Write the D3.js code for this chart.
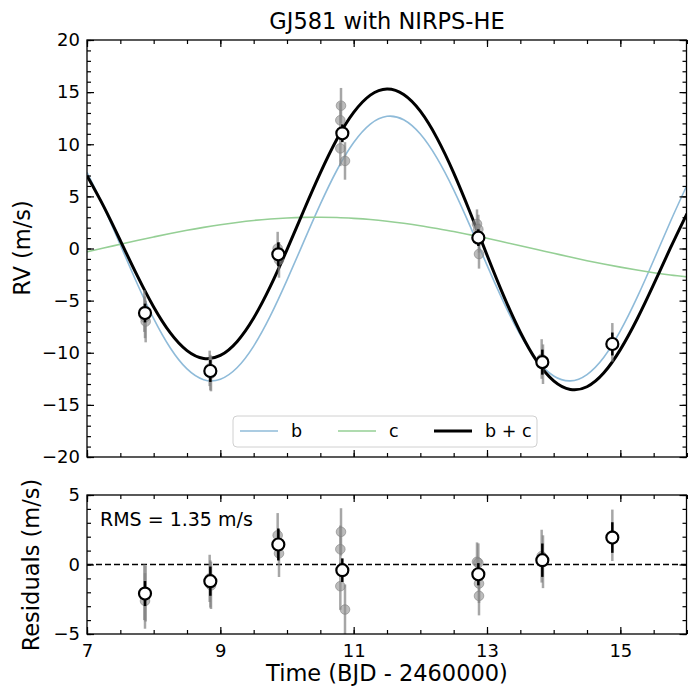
<!DOCTYPE html>
<html><head><meta charset="utf-8">
<script src="https://cdn.jsdelivr.net/npm/d3@7"></script>
<style>body{margin:0;background:#fff}svg{display:block;font-family:"DejaVu Sans",sans-serif}</style>
</head><body><svg id="c" width="688" height="687"></svg>
<script>
const modelT = [7.00,7.25,7.50,7.75,8.00,8.25,8.50,8.75,9.00,9.25,9.50,9.75,10.00,10.25,10.50,10.75,11.00,11.25,11.50,11.75,12.00,12.25,12.50,12.75,13.00,13.25,13.50,13.75,14.00,14.25,14.50,14.75,15.00,15.25,15.50,15.75,16.00];
const modelB = [7.30,4.00,0.35,-3.33,-6.72,-9.54,-11.55,-12.58,-12.54,-11.44,-9.36,-6.47,-3.04,0.63,4.25,7.53,10.16,11.93,12.68,12.35,10.98,8.67,5.63,2.10,-1.60,-5.16,-8.29,-10.73,-12.23,-12.70,-12.09,-10.46,-7.91,-4.72,-1.13,2.57,6.07];
const modelC = [-0.32,0.04,0.41,0.77,1.11,1.44,1.75,2.03,2.28,2.50,2.69,2.83,2.93,2.99,3.00,2.97,2.89,2.78,2.62,2.42,2.19,1.92,1.63,1.31,0.98,0.62,0.26,-0.10,-0.46,-0.82,-1.17,-1.49,-1.79,-2.07,-2.32,-2.54,-2.72];
const modelBC = [6.98,4.04,0.76,-2.56,-5.61,-8.10,-9.80,-10.55,-10.26,-8.94,-6.67,-3.64,-0.11,3.62,7.25,10.50,13.05,14.71,15.30,14.77,13.17,10.59,7.26,3.41,-0.62,-4.54,-8.03,-10.83,-12.69,-13.52,-13.26,-11.95,-9.70,-6.79,-3.45,0.03,3.35];

// Nightly binned points
const nightT = [7.87,8.85,9.87,10.83,12.87,13.83,14.88];
const nightRV = [-6.19,-11.75,-0.56,11.05,1.04,-10.9,-9.16];
const nightRes = [-2.09,-1.2,1.44,-0.41,-0.70,0.31,1.94];
const nightErr = [0.9,1.05,1.15,0.85,0.8,1.2,1.1];

// Individual observations
const obsT = [7.86,7.87,7.88,8.84,8.85,8.86,9.86,9.88,10.81,10.80,10.80,10.87,12.85,12.87,12.88,12.88,13.82,13.84,14.88];
const obsRV = [-6.0,-6.6,-7.0,-11.5,-11.9,-12.0,0.0,-1.1,13.7,12.3,9.6,8.4,2.35,1.84,1.0,-0.53,-10.6,-11.1,-9.0];
const obsRes = [-2.0,-2.62,-2.1,-1.0,-1.4,-1.5,2.1,0.8,2.35,1.1,-1.56,-3.24,0.19,0.12,-1.37,-2.26,0.6,0.2,2.1];
const obsErr = [2.0,2.0,2.0,1.7,1.7,1.7,1.6,1.7,1.7,1.7,1.7,1.8,1.4,1.4,1.4,1.4,1.9,1.9,1.85];

const xTicks = [7,9,11,13,15];
const yTicksTop = [-20,-15,-10,-5,0,5,10,15,20];
const yTicksBot = [-5,0,5];
const legendItems = ["b","c","b + c"];
const rmsText = "RMS = 1.35 m/s";

const svg = d3.select("#c");
const L = 87, R = 687;
const x = d3.scaleLinear().domain([7,16]).range([L,R]);
const yT = d3.scaleLinear().domain([-20,20]).range([457,40]);
const yB = d3.scaleLinear().domain([-5,5]).range([634,495]);
const fmt = d3.format("d");

const defs = svg.append("defs");
defs.append("clipPath").attr("id","clipT").append("rect").attr("x",L).attr("y",40).attr("width",R-L).attr("height",417);
defs.append("clipPath").attr("id","clipB").append("rect").attr("x",L).attr("y",495).attr("width",R-L).attr("height",139);

function axes(y, top, bot, yTicks, yMinor, showXLabels){
  const gx = svg.append("g").attr("transform",`translate(0,${bot})`)
    .call(d3.axisBottom(x).tickValues(xTicks).tickSize(-7).tickPadding(10).tickFormat(showXLabels?fmt:""));
  const gxm = svg.append("g").attr("transform",`translate(0,${bot})`)
    .call(d3.axisBottom(x).tickValues(d3.range(7,16.01,0.5)).tickSize(-4).tickFormat(""));
  const gxt = svg.append("g").attr("transform",`translate(0,${top})`)
    .call(d3.axisTop(x).tickValues(xTicks).tickSize(-7).tickFormat(""));
  const gxtm = svg.append("g").attr("transform",`translate(0,${top})`)
    .call(d3.axisTop(x).tickValues(d3.range(7,16.01,0.5)).tickSize(-4).tickFormat(""));
  const gy = svg.append("g").attr("transform",`translate(${L},0)`)
    .call(d3.axisLeft(y).tickValues(yTicks).tickSize(-7).tickPadding(7).tickFormat(fmt));
  const gym = svg.append("g").attr("transform",`translate(${L},0)`)
    .call(d3.axisLeft(y).tickValues(yMinor).tickSize(-4).tickFormat(""));
  const gyr = svg.append("g").attr("transform",`translate(${R-0.5},0)`)
    .call(d3.axisRight(y).tickValues(yTicks).tickSize(-7).tickFormat(""));
  const gyrm = svg.append("g").attr("transform",`translate(${R-0.5},0)`)
    .call(d3.axisRight(y).tickValues(yMinor).tickSize(-4).tickFormat(""));
  [gx,gxm,gxt,gxtm,gy,gym,gyr,gyrm].forEach(g=>{
    g.select(".domain").remove();
    g.selectAll("line").attr("stroke","#000").attr("stroke-width",1.2);
    g.selectAll("text").attr("font-size",18).attr("fill","#000").attr("font-family","DejaVu Sans");
  });
  svg.append("rect").attr("x",L).attr("y",top).attr("width",R-L-0.5).attr("height",bot-top)
    .attr("fill","none").attr("stroke","#000").attr("stroke-width",1.3);
}

// ---- Top panel content
const gT = svg.append("g").attr("clip-path","url(#clipT)");
const line = (ys)=>d3.line().x((d,i)=>x(modelT[i])).y((d,i)=>yT(ys[i])).curve(d3.curveNatural)(modelT);
gT.append("path").attr("d",line(modelB)).attr("fill","none").attr("stroke","#8fbbd9").attr("stroke-width",1.6);
gT.append("path").attr("d",line(modelC)).attr("fill","none").attr("stroke","#95cf95").attr("stroke-width",1.6);
gT.append("path").attr("d",line(modelBC)).attr("fill","none").attr("stroke","#000").attr("stroke-width",3);

function points(g, y, vals, nvals){
  g.selectAll(null).data(obsT).enter().append("line")
    .attr("x1",(d)=>x(d)).attr("x2",(d)=>x(d))
    .attr("y1",(d,i)=>y(vals[i]+obsErr[i])).attr("y2",(d,i)=>y(vals[i]-obsErr[i]))
    .attr("stroke","#808080").attr("stroke-opacity",0.7).attr("stroke-width",2.5);
  g.selectAll(null).data(obsT).enter().append("circle")
    .attr("cx",(d)=>x(d)).attr("cy",(d,i)=>y(vals[i])).attr("r",4.8)
    .attr("fill","#909090").attr("fill-opacity",0.6).attr("stroke","#808080").attr("stroke-opacity",0.6);
  g.selectAll(null).data(nightT).enter().append("line")
    .attr("x1",(d)=>x(d)).attr("x2",(d)=>x(d))
    .attr("y1",(d,i)=>y(nvals[i]+nightErr[i])).attr("y2",(d,i)=>y(nvals[i]-nightErr[i]))
    .attr("stroke","#000").attr("stroke-width",2.5);
  g.selectAll(null).data(nightT).enter().append("circle")
    .attr("cx",(d)=>x(d)).attr("cy",(d,i)=>y(nvals[i])).attr("r",6)
    .attr("fill","#fff").attr("stroke","#000").attr("stroke-width",2.2);
}
points(gT, yT, obsRV, nightRV);

// ---- Bottom panel content
const gB = svg.append("g").attr("clip-path","url(#clipB)");
gB.append("line").attr("x1",L).attr("x2",R).attr("y1",yB(0)).attr("y2",yB(0))
  .attr("stroke","#000").attr("stroke-width",1.5).attr("stroke-dasharray","6,3");
points(gB, yB, obsRes, nightRes);

axes(yT, 40, 457, yTicksTop, d3.range(-20,20.01,1), false);
axes(yB, 495, 634, yTicksBot, d3.range(-5,5.01,1), true);

// Legend
const lg = svg.append("g");
lg.append("rect").attr("x",233).attr("y",416).attr("width",304).attr("height",31).attr("rx",4)
  .attr("fill","#fff").attr("fill-opacity",0.8).attr("stroke","#d0d0d0").attr("stroke-width",1);
const legColors = ["#8fbbd9","#95cf95","#000"];
const legW = [1.6,1.6,3];
const legX = [240,338,434];
legendItems.forEach((t,i)=>{
  lg.append("line").attr("x1",legX[i]).attr("x2",legX[i]+38).attr("y1",431).attr("y2",431)
    .attr("stroke",legColors[i]).attr("stroke-width",legW[i]);
  lg.append("text").attr("x",legX[i]+51).attr("y",437).attr("font-size",17.5).text(t);
});

// Texts
svg.append("text").attr("x",100).attr("y",526).attr("font-size",19).text(rmsText);
svg.append("text").attr("x",387).attr("y",29).attr("text-anchor","middle").attr("font-size",22.5).text("GJ581 with NIRPS-HE");
svg.append("text").attr("x",387).attr("y",681).attr("text-anchor","middle").attr("font-size",22.5).text("Time (BJD - 2460000)");
svg.append("text").attr("transform","translate(30,248) rotate(-90)").attr("text-anchor","middle").attr("font-size",22.5).text("RV (m/s)");
svg.append("text").attr("transform","translate(39,565) rotate(-90)").attr("text-anchor","middle").attr("font-size",22.5).text("Residuals (m/s)");
</script></body></html>
